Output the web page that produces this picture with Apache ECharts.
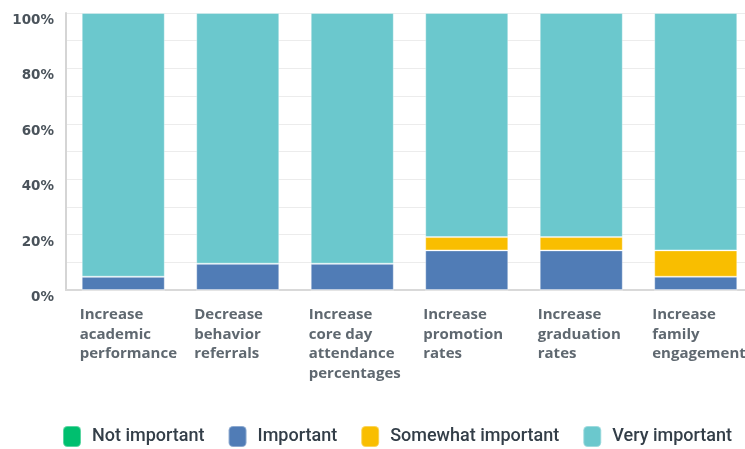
<!DOCTYPE html>
<html>
<head>
<meta charset="utf-8">
<script src="https://cdn.jsdelivr.net/npm/echarts@6/dist/echarts.min.js"></script>
<style>html,body{margin:0;padding:0;background:#fff}#c{width:745px;height:449px}</style>
</head>
<body>
<div id="c"></div>
<script>
const categories = [
  'Increase\nacademic\nperformance',
  'Decrease\nbehavior\nreferrals',
  'Increase\ncore day\nattendance\npercentages',
  'Increase\npromotion\nrates',
  'Increase\ngraduation\nrates',
  'Increase\nfamily\nengagement'
];
const notImportant = [0, 0, 0, 0, 0, 0];
const important = [4.8, 9.5, 9.5, 14.3, 14.3, 4.8];
const somewhatImportant = [0, 0, 0, 4.8, 4.8, 9.5];
const veryImportant = [95.2, 90.5, 90.5, 80.9, 80.9, 85.7];
const yTicks = [0, 20, 40, 60, 80, 100];

const chart = echarts.init(document.getElementById('c'), null, {renderer: 'canvas'});
const mk = (name, data, color) => ({
  name, type: 'bar', stack: 'total', data,
  barWidth: '72.5%',
  itemStyle: {color, borderColor: 'rgba(255,255,255,0.35)', borderWidth: 1},
  emphasis: {disabled: true}
});
chart.setOption({
  animation: false,
  grid: {left: 66, top: 13, width: 687, bottom: 159, containLabel: false, outerBoundsMode: 'none'},
  legend: {
    left: 62, top: 425, padding: 0, itemWidth: 18, itemHeight: 21, itemGap: 23, icon: 'roundRect',
    textStyle: {fontFamily: 'Roboto', fontSize: 18, fontWeight: 500, color: '#333e48', padding: [0,0,0,6]},
    data: ['Not important', 'Important', 'Somewhat important', 'Very important']
  },
  xAxis: {
    type: 'category', data: categories,
    axisLine: {lineStyle: {color: '#d9d9d9', width: 2}},
    axisTick: {show: false},
    axisLabel: {
      interval: 0, margin: 15,
      formatter: v => v.split('\n').map(s => '{a|' + s + '}').join('\n'),
      rich: {a: {width: 87, align: 'left', fontFamily: 'Open Sans', fontWeight: 'bold', fontSize: 15, color: '#5f6870', lineHeight: 19.5}}
    }
  },
  yAxis: {
    type: 'value', min: 0, max: 100, interval: 20,
    axisLine: {show: true, lineStyle: {color: '#d5d5d5', width: 2}},
    axisTick: {show: false},
    axisLabel: {formatter: v => yTicks.includes(v) ? v + '%' : '', fontFamily: 'DejaVu Sans', fontWeight: 'bold', fontSize: 13.5, color: '#4a535b', margin: 12, verticalAlign: 'top', lineHeight: 15},
    splitLine: {lineStyle: {color: '#ececec', width: 1}},
    minorTick: {show: false, splitNumber: 2},
    minorSplitLine: {show: true, lineStyle: {color: '#ececec', width: 1}}
  },
  series: [
    mk('Not important', notImportant, '#00bf6f'),
    mk('Important', important, '#507cb6'),
    mk('Somewhat important', somewhatImportant, '#f9be00'),
    mk('Very important', veryImportant, '#6bc8cd')
  ]
});
</script>
</body>
</html>
